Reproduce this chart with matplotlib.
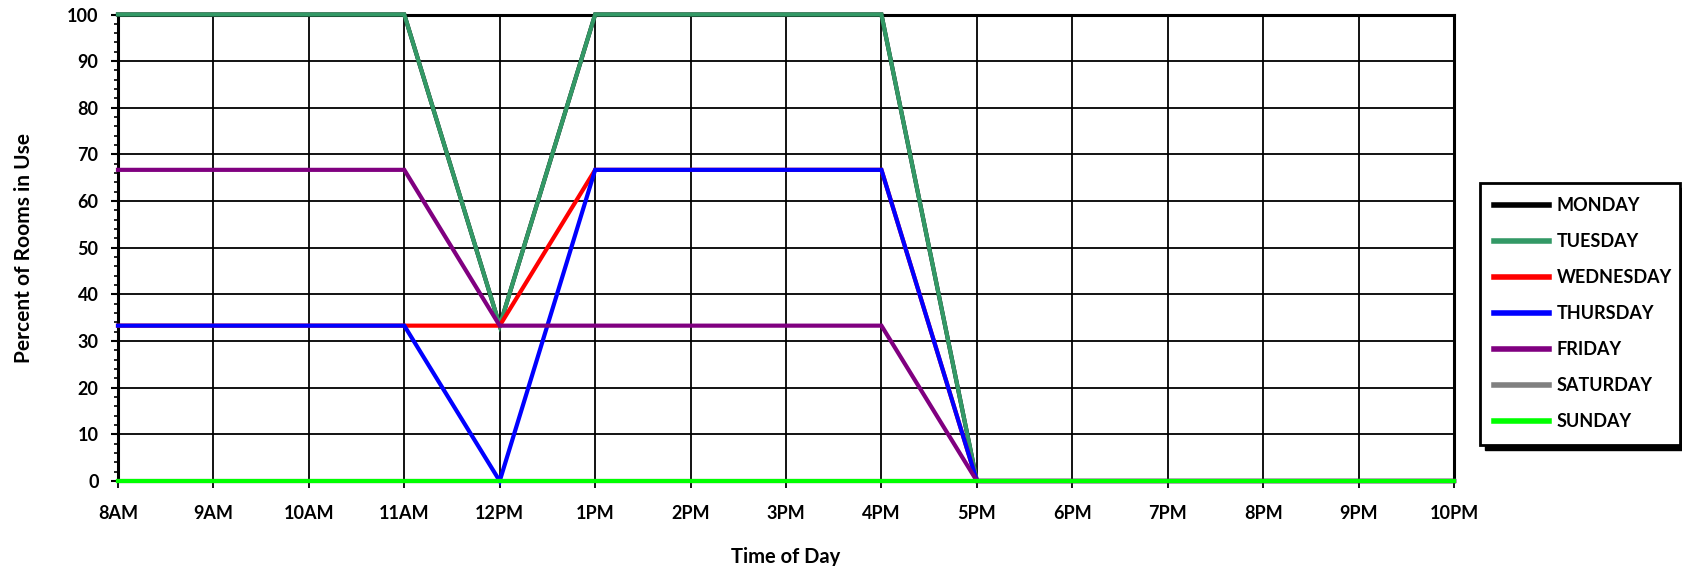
import matplotlib
matplotlib.use("Agg")
import matplotlib.pyplot as plt
from matplotlib.patches import Rectangle
from matplotlib.ticker import MultipleLocator

plt.rcParams['font.family'] = ['Lato', 'DejaVu Sans']
plt.rcParams['font.weight'] = 'bold'

hours = ["8AM", "9AM", "10AM", "11AM", "12PM", "1PM", "2PM", "3PM", "4PM",
         "5PM", "6PM", "7PM", "8PM", "9PM", "10PM"]
monday    = [100, 100, 100, 100, 33.3, 100, 100, 100, 100, 0, 0, 0, 0, 0, 0]
tuesday   = [100, 100, 100, 100, 33.3, 100, 100, 100, 100, 0, 0, 0, 0, 0, 0]
wednesday = [33.3, 33.3, 33.3, 33.3, 33.3, 66.7, 66.7, 66.7, 66.7, 0, 0, 0, 0, 0, 0]
thursday  = [33.3, 33.3, 33.3, 33.3, 0, 66.7, 66.7, 66.7, 66.7, 0, 0, 0, 0, 0, 0]
friday    = [66.7, 66.7, 66.7, 66.7, 33.3, 33.3, 33.3, 33.3, 33.3, 0, 0, 0, 0, 0, 0]
saturday  = [0] * 15
sunday    = [0] * 15

series = [
    ("MONDAY", monday, "#000000"),
    ("TUESDAY", tuesday, "#339966"),
    ("WEDNESDAY", wednesday, "#FF0000"),
    ("THURSDAY", thursday, "#0000FF"),
    ("FRIDAY", friday, "#800080"),
    ("SATURDAY", saturday, "#808080"),
    ("SUNDAY", sunday, "#00FF00"),
]

W, H = 1683, 566
fig = plt.figure(figsize=(W/100, H/100), dpi=100)
ax = fig.add_axes([118/W, 1-481/H, (1454-118)/W, (481-14.5)/H])

x = list(range(len(hours)))
for i, (name, vals, col) in enumerate(series):
    ax.plot(x, vals, color=col, lw=3, label=name, zorder=3+i, clip_on=False,
            solid_joinstyle='miter')

ax.set_xlim(0, len(hours)-1)
ax.set_ylim(0, 100)
ax.set_xticks(x)
ax.set_xticklabels(hours)
ax.yaxis.set_major_locator(MultipleLocator(10))
ax.yaxis.set_minor_locator(MultipleLocator(2))
ax.grid(True, which='major', color='black', lw=1.3, zorder=1)
ax.tick_params(axis='x', which='major', length=5, width=1.3, pad=12, labelsize=13)
ax.tick_params(axis='y', which='major', length=5, width=1.5, pad=9, labelsize=13)
ax.tick_params(axis='y', which='minor', length=3, width=1.2)
for t in ax.get_xticklabels() + ax.get_yticklabels():
    t.set_fontweight('bold')
for s in ax.spines.values():
    s.set_linewidth(2.2)
    s.set_zorder(2)

ax.set_xlabel("Time of Day", fontsize=14.5, fontweight='bold', labelpad=18)
ax.set_ylabel("Percent of Rooms in Use", fontsize=15, fontweight='bold', labelpad=24)

# legend box
lx0, lx1 = 1480/W, 1680/W
ly0, ly1 = 1-447/H, 1-183/H
leg = fig.legend(loc='upper left', bbox_to_anchor=(lx0, ly0, lx1-lx0, ly1-ly0),
                 bbox_transform=fig.transFigure, mode='expand',
                 prop={'weight': 'bold', 'size': 13}, handlelength=3.0,
                 handletextpad=0.45, labelspacing=1.05, borderpad=0.8,
                 borderaxespad=0, fancybox=False, framealpha=1,
                 edgecolor='black')
leg.get_frame().set_linewidth(2)
for h in leg.get_lines():
    h.set_linewidth(4)

fig.canvas.draw()
bb = leg.get_window_extent()
shadow = Rectangle((bb.x0 + 5, bb.y0 - 5), bb.width, bb.height,
                   transform=None, facecolor='black', edgecolor='black', zorder=0)
fig.patches.append(shadow)

fig.savefig("out.png", dpi=100)
